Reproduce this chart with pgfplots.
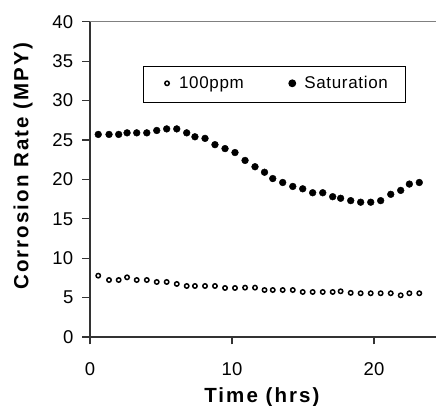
\documentclass[border=0pt]{standalone}
\usepackage{fontspec}
\setmainfont{Liberation Sans}
\newfontfamily\tickfont[LetterSpace=2]{Liberation Sans}
\newfontfamily\labfont[LetterSpace=10]{Liberation Sans}
\newfontfamily\legfont[LetterSpace=4]{Liberation Sans}
\usepackage{pgfplots}
\pgfplotsset{compat=1.18}
\pgfplotsset{mylegimg/.style={legend image code/.code={\path[draw=none] (0pt,0pt) rectangle (12pt,10pt);
    \draw[##1] plot coordinates {(6pt,5.6pt)};}}}
\begin{document}
\begin{tikzpicture}
\useasboundingbox (-90pt,-69pt) rectangle (346pt,337pt);
\begin{axis}[
  scale only axis,
  width=347.9pt, height=315.3pt,
  xmin=0, xmax=24.5, ymin=0, ymax=40,
  axis x line*=bottom, axis y line*=left,
  axis line style={draw=black!80, line width=1.3pt},
  xtick={0,10,20}, ytick={0,5,...,40},
  tick align=outside,
  major tick length=7.5pt,
  tick style={draw=black!80, line width=1.2pt},
  /pgf/number format/assume math mode=true,
  ticklabel style={font=\tickfont\fontsize{18.5}{20}\selectfont},
  xticklabel style={inner sep=0pt, anchor=north, yshift=-18.2pt},
  yticklabel style={inner sep=0pt, anchor=east, xshift=-9pt},
  xlabel={\bfseries Time (hrs)},
  ylabel={\bfseries Corrosion Rate (MPY)},
  label style={font=\labfont\fontsize{20.5}{22}\selectfont},
  xlabel style={at={(axis description cs:0.494,-0.2084)}, anchor=base},
  ylabel style={at={(axis description cs:-0.1926,0.541)}, anchor=center, rotate=0},
  legend columns=2,
  legend style={at={(axis description cs:0.151,0.8601)}, anchor=north west,
    draw=black, line width=1pt, fill=white,
    inner xsep=18pt, inner ysep=10.4pt,
    font=\legfont\fontsize{17}{18}\selectfont,
    cells={anchor=base west},
    nodes={inner sep=0pt, text height=12.2pt, text depth=3.6pt},
    column sep=6pt,
    /tikz/every even column/.append style={column sep=42.4pt}},
]
\addplot[only marks, mark=o, mark size=2.2pt, mark options={draw=black, line width=1.5pt}, mylegimg]
coordinates {
(0.58,7.78) (1.34,7.23) (2.02,7.23) (2.61,7.57) (3.29,7.23) (4.00,7.23)
(4.70,6.98) (5.40,6.98) (6.11,6.73) (6.81,6.47) (7.39,6.47) (8.10,6.47)
(8.80,6.47) (9.51,6.22) (10.21,6.22) (10.92,6.26) (11.62,6.26) (12.29,5.96)
(12.87,5.96) (13.57,5.96) (14.28,5.96) (14.98,5.71) (15.68,5.71) (16.39,5.71)
(17.09,5.71) (17.65,5.80) (18.36,5.60) (19.06,5.55) (19.77,5.55) (20.47,5.55)
(21.18,5.55) (21.88,5.29) (22.49,5.55) (23.19,5.55)
};
\addlegendentry{100ppm}
\addplot[only marks, mark=*, mark size=3.4pt, mark options={draw=black, fill=black}, mylegimg]
coordinates {
(0.58,25.7) (1.34,25.7) (2.02,25.7) (2.61,25.9) (3.29,25.9) (4.00,25.9)
(4.70,26.2) (5.40,26.4) (6.11,26.4) (6.81,25.9) (7.39,25.4) (8.10,25.2)
(8.80,24.4) (9.51,23.9) (10.21,23.4) (10.92,22.4) (11.62,21.6) (12.29,20.9)
(12.87,20.1) (13.57,19.6) (14.28,19.1) (14.98,18.8) (15.68,18.3) (16.39,18.3)
(17.09,17.8) (17.65,17.6) (18.36,17.3) (19.06,17.1) (19.77,17.1) (20.47,17.3)
(21.18,18.1) (21.88,18.6) (22.49,19.4) (23.19,19.6)
};
\addlegendentry{Saturation}
\draw[draw=black!50, line width=1.3pt] ([xshift=-7.5pt]rel axis cs:0,1) -- (rel axis cs:1,1);
\end{axis}
\end{tikzpicture}
\end{document}
